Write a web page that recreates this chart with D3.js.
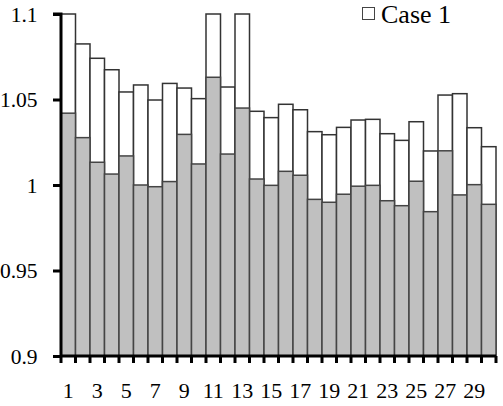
<!DOCTYPE html>
<html><head><meta charset="utf-8">
<script src="https://cdn.jsdelivr.net/npm/d3@7"></script>
<style>
html,body{margin:0;padding:0;background:#fff;}
svg{display:block;}
</style></head>
<body>
<svg id="c" width="503" height="406"></svg>
<script>
const categories = d3.range(1, 31).map(String);
const case1 = [1.1, 1.0825, 1.0741, 1.0674, 1.0544, 1.0585, 1.0497, 1.0594, 1.0567, 1.0505,
               1.1, 1.0573, 1.1, 1.0431, 1.0394, 1.0472, 1.044, 1.0312, 1.0294, 1.0337,
               1.038, 1.0384, 1.03, 1.0261, 1.037, 1.0199, 1.0526, 1.0534, 1.0335, 1.0224];
const case2 = [1.042, 1.0277, 1.0133, 1.0064, 1.017, 1.0, 0.999, 1.002, 1.0296, 1.0123,
               1.063, 1.0181, 1.045, 1.0035, 0.9998, 1.008, 1.0057, 0.9916, 0.9899, 0.9946,
               0.9993, 0.9998, 0.9908, 0.9879, 1.0022, 0.9844, 1.02, 0.9942, 1.0002, 0.9887];
const yTicks = [0.9, 0.95, 1, 1.05, 1.1];
const yTickLabels = ["0.9", "0.95", "1", "1.05", "1.1"];
const xTickLabels = categories.map((c, i) => i % 2 === 0 ? c : "");
const legendLabel = "Case 1";
const FONT = "'Liberation Serif', 'Times New Roman', serif";

const svg = d3.select("#c");
const L = 61, R = 496, T = 14, B = 356;
const x = d3.scaleBand().domain(categories).range([L, R]).padding(0);
const y = d3.scaleLinear().domain([0.9, 1.1]).range([B, T]).clamp(true);

svg.append("g").selectAll("rect").data(case1).join("rect")
  .attr("x", (d, i) => x(categories[i]))
  .attr("width", x.bandwidth())
  .attr("y", d => y(d))
  .attr("height", d => y(0.9) - y(d))
  .attr("fill", "#fff").attr("stroke", "#333").attr("stroke-width", 1.5);

svg.append("g").selectAll("rect").data(case2).join("rect")
  .attr("x", (d, i) => x(categories[i]))
  .attr("width", x.bandwidth())
  .attr("y", d => y(d))
  .attr("height", d => y(0.9) - y(d))
  .attr("fill", "#c0c0c0").attr("stroke", "#444").attr("stroke-width", 1.5);

const yAxis = d3.axisLeft(y).tickValues(yTicks).tickSize(8).tickPadding(15.5)
  .tickFormat((d, i) => yTickLabels[i]);
const gy = svg.append("g").attr("transform", `translate(${L},0)`).call(yAxis);
gy.select(".domain").attr("stroke", "#000").attr("stroke-width", 3).attr("d", `M-8,${T}H0V${B}`);
gy.selectAll(".tick line").attr("stroke", "#000").attr("stroke-width", 3);
gy.selectAll(".tick text").style("font-family", FONT).style("font-size", "21.5px")
  .attr("fill", "#000").attr("dy", "0.33em");

const xAxis = d3.axisBottom(x).tickSize(0).tickPadding(26).tickFormat((d, i) => xTickLabels[i]);
const gx = svg.append("g").attr("transform", `translate(0,${B})`).call(xAxis);
gx.select(".domain").attr("stroke", "#000").attr("stroke-width", 3).attr("d", `M${L},0H${R}`);
gx.selectAll(".tick text").style("font-family", FONT).style("font-size", "22px").attr("fill", "#000");
const bounds = categories.map(c => x(c)).concat([R]);
gx.append("g").selectAll("line").data(bounds).join("line")
  .attr("x1", d => d).attr("x2", d => d).attr("y1", 0).attr("y2", 7)
  .attr("stroke", "#000").attr("stroke-width", 3);

const lg = svg.append("g");
lg.append("rect").attr("x", 362.5).attr("y", 7.5).attr("width", 12).attr("height", 12)
  .attr("fill", "#fff").attr("stroke", "#444").attr("stroke-width", 1);
lg.append("text").attr("x", 381).attr("y", 23)
  .style("font-family", FONT).style("font-size", "26px").attr("fill", "#000")
  .text(legendLabel);
</script>
</body></html>
